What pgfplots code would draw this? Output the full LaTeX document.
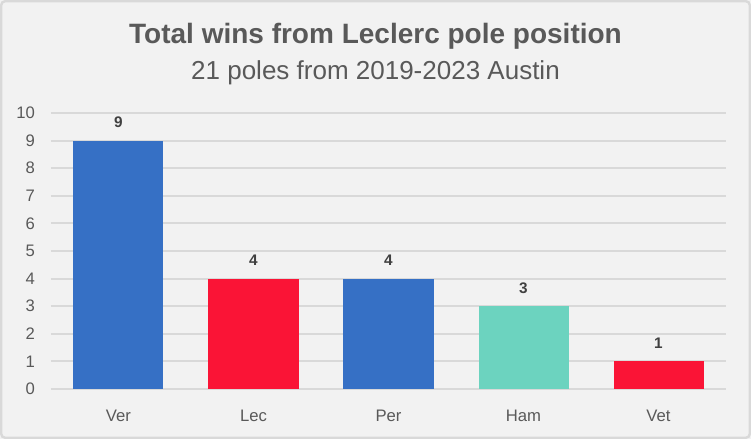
\documentclass[border=0pt]{standalone}
\usepackage{fontspec}
\setmainfont{Liberation Sans}
\usepackage{pgfplots}
\pgfplotsset{compat=1.18}
\definecolor{bg}{HTML}{F2F2F2}
\definecolor{frame}{HTML}{D9D9D9}
\definecolor{gridc}{HTML}{D9D9D9}
\definecolor{txt}{HTML}{595959}
\definecolor{lbl}{HTML}{404040}
\definecolor{cblue}{HTML}{3670C5}
\definecolor{cred}{HTML}{FA1436}
\definecolor{cteal}{HTML}{6CD3BF}
\begin{document}
\begin{tikzpicture}[x=0.75pt,y=0.75pt]
\fill[bg] (0,0) rectangle (751,439);
\draw[frame,line width=1.8pt,rounded corners=3pt] (1.2,1.2) rectangle (749.8,437.8);
\node[text=txt,font=\bfseries\fontsize{21}{24}\selectfont] at (375.5,403) {Total wins from Leclerc pole position};
\node[text=txt,font=\fontsize{19.5}{22}\selectfont] at (375.5,366) {21 poles from 2019-2023 Austin};
\begin{axis}[
  at={(38.25pt,37.5pt)}, anchor=south west,
  scale only axis, width=506.25pt, height=207pt,
  xmin=-0.5, xmax=4.5, ymin=0, ymax=10,
  ytick={0,1,...,10},
  xtick={0,1,2,3,4},
  xticklabels={Ver,Lec,Per,Ham,Vet},
  ymajorgrids, grid style={gridc,line width=1.4pt},
  axis line style={draw=none},
  tick style={draw=none},
  /pgf/number format/assume math mode=true,
  ticklabel style={font=\fontsize{12.5}{14}\selectfont, text=txt},
  yticklabel shift=8.5pt,
  xticklabel shift=8pt,
  ybar, bar width=67.5pt, bar shift=0pt,
  nodes near coords,
  every node near coord/.append style={font=\bfseries\fontsize{11.5}{13}\selectfont, text=lbl, yshift=6pt},
  clip=false,
]
\addplot[fill=cblue,draw=none] coordinates {(0,9)};
\addplot[fill=cred,draw=none] coordinates {(1,4)};
\addplot[fill=cblue,draw=none] coordinates {(2,4)};
\addplot[fill=cteal,draw=none] coordinates {(3,3)};
\addplot[fill=cred,draw=none] coordinates {(4,1)};
\end{axis}
\end{tikzpicture}
\end{document}
